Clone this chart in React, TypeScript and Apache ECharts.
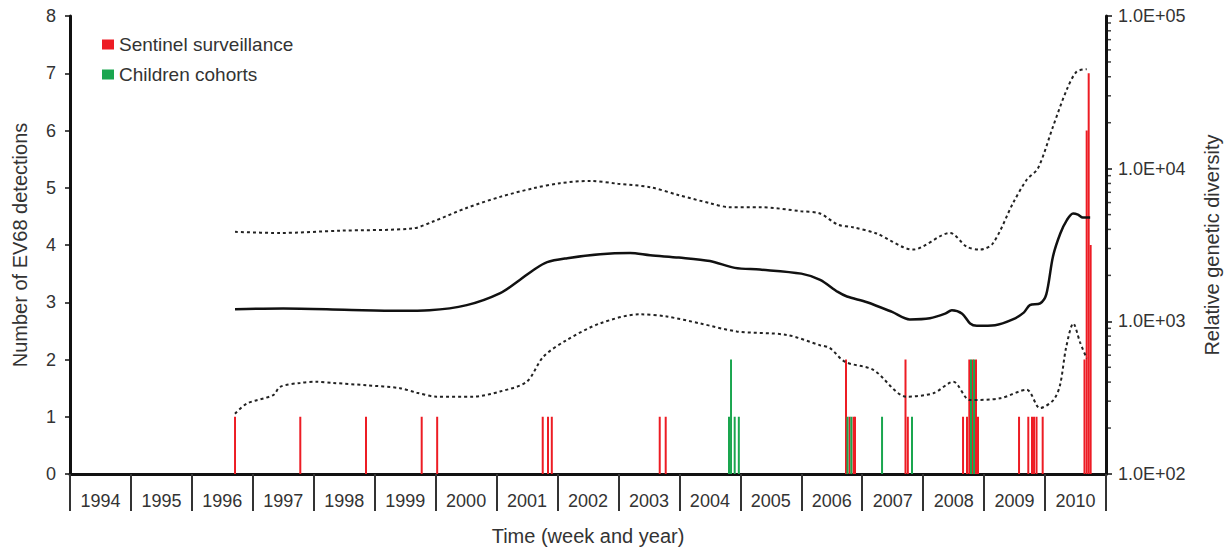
import React, { useEffect, useRef } from 'react';
import * as echarts from 'echarts';

const yearLabels = ['1994', '1995', '1996', '1997', '1998', '1999', '2000', '2001', '2002', '2003', '2004', '2005', '2006', '2007', '2008', '2009', '2010'];

// Sentinel surveillance detections (time in decimal years, count)
const redTime = [1996.708, 1997.779, 1998.857, 1999.771, 2000.025, 2001.757, 2001.844, 2001.906, 2003.677, 2003.775, 2006.734, 2006.791, 2006.857, 2006.881, 2007.710, 2007.748, 2008.654, 2008.719, 2008.757, 2008.813, 2008.867, 2008.900, 2009.573, 2009.725, 2009.786, 2009.819, 2009.860, 2009.961, 2010.647, 2010.683, 2010.716, 2010.748];
const redCount = [1, 1, 1, 1, 1, 1, 1, 1, 1, 1, 2, 1, 1, 1, 2, 1, 1, 1, 2, 2, 2, 1, 1, 1, 1, 1, 1, 1, 2, 6, 7, 4];

// Children cohorts detections
const greenTime = [2004.814, 2004.847, 2004.907, 2004.975, 2006.758, 2006.821, 2007.325, 2007.817, 2008.785, 2008.835];
const greenCount = [1, 2, 1, 1, 1, 1, 1, 1, 2, 2];

// Relative genetic diversity: median
const midTime = [1996.708, 1997.5, 1998.5, 1999.4, 1999.9, 2000.51, 2001.06, 2001.38, 2001.6, 2001.83, 2002.16, 2002.7, 2003.19, 2003.52, 2003.99, 2004.5, 2004.91, 2005.32, 2006.0, 2006.31, 2006.6, 2006.75, 2007.08, 2007.49, 2007.78, 2008.11, 2008.36, 2008.47, 2008.64, 2008.77, 2008.88, 2009.18, 2009.47, 2009.65, 2009.75, 2009.92, 2010.02, 2010.13, 2010.25, 2010.36, 2010.46, 2010.54, 2010.62, 2010.74];
const midValue = [1202, 1212, 1192, 1172, 1182, 1277, 1531, 1867, 2163, 2442, 2593, 2754, 2802, 2707, 2615, 2483, 2239, 2182, 2054, 1867, 1558, 1454, 1334, 1152, 1029, 1047, 1122, 1182, 1122, 969, 936, 944, 1029, 1141, 1277, 1311, 1500, 2661, 3758, 4624, 5085, 4998, 4786, 4786];

// Upper 95% HPD
const upperTime = [1996.708, 1997.446, 1998.431, 1999.628, 1999.957, 2000.515, 2001.056, 2001.598, 2002.041, 2002.533, 2002.992, 2003.517, 2003.993, 2004.502, 2004.83, 2005.323, 2005.995, 2006.307, 2006.6, 2006.849, 2007.238, 2007.833, 2008.44, 2008.714, 2008.933, 2009.146, 2009.474, 2009.699, 2009.884, 2010.131, 2010.355, 2010.519, 2010.683];
const upperValue = [3857, 3791, 3925, 4062, 4506, 5543, 6531, 7434, 8035, 8318, 7965, 7564, 6703, 5939, 5591, 5591, 5264, 5085, 4300, 4133, 3758, 2951, 3791, 3082, 2951, 3245, 5939, 8463, 10058, 18890, 32830, 43280, 44800];

// Lower 95% HPD
const lowerTime = [1996.708, 1996.9, 1997.336, 1997.446, 1997.774, 1998.048, 1998.316, 1998.869, 1999.415, 1999.689, 2000.017, 2000.618, 2001.056, 2001.494, 2001.767, 2002.151, 2002.697, 2003.353, 2003.792, 2004.338, 2004.94, 2005.76, 2006.307, 2006.471, 2006.717, 2007.182, 2007.73, 2008.166, 2008.494, 2008.769, 2009.261, 2009.699, 2009.917, 2010.136, 2010.245, 2010.344, 2010.464, 2010.574, 2010.683];
const lowerValue = [248, 289, 329, 372, 395, 402, 395, 381, 365, 341, 321, 321, 347, 402, 587, 754, 969, 1112, 1075, 969, 859, 815, 698, 668, 543, 481, 321, 338, 402, 305, 313, 356, 270, 305, 381, 668, 969, 729, 572];

// Minor tick positions of the logarithmic right axis
const logMinorTicks = [200, 300, 400, 500, 600, 700, 800, 900, 2000, 3000, 4000, 5000, 6000, 7000, 8000, 9000, 20000, 30000, 40000, 50000, 60000, 70000, 80000, 90000];

const FONT = 'Liberation Sans, Arial, Helvetica, sans-serif';
const TEXT = '#333333';
const RED = '#ed1c24';
const GREEN = '#1aa64f';

const zip = (a: number[], b: number[]) => a.map((v, i) => [v, b[i]]);

export default function App() {
  const ref = useRef<HTMLDivElement>(null);
  useEffect(() => {
    const chart = echarts.init(ref.current!, null, { renderer: 'svg' });
    const dashed = { type: [3, 3] as any, width: 2, color: '#222', cap: 'butt' as const };
    chart.setOption({
      animation: false,
      backgroundColor: '#ffffff',
      textStyle: { fontFamily: FONT },
      grid: { left: 70, right: 126, top: 16, bottom: 74, outerBoundsMode: 'none', containLabel: false },
      legend: {
        data: ['Sentinel surveillance', 'Children cohorts'],
        orient: 'vertical',
        left: 102,
        top: 35,
        padding: 0,
        itemWidth: 12,
        itemHeight: 10,
        itemGap: 11,
        icon: 'rect',
        selectedMode: false,
        textStyle: { fontSize: 19, color: TEXT, fontFamily: FONT },
      },
      xAxis: [
        { type: 'value', min: 1994, max: 2011, show: false },
        {
          type: 'category',
          data: yearLabels,
          boundaryGap: true,
          position: 'bottom',
          axisLine: { show: true, lineStyle: { color: '#111', width: 3 } },
          axisTick: { show: true, interval: 0, length: 37, lineStyle: { color: '#333', width: 2 } },
          axisLabel: { interval: 0, margin: 18, fontSize: 18, color: TEXT, fontFamily: FONT },
          splitLine: { show: false },
          name: 'Time (week and year)',
          nameLocation: 'middle',
          nameGap: 52,
          nameTextStyle: { fontSize: 20, color: TEXT, fontFamily: FONT },
        },
      ],
      yAxis: [
        {
          type: 'value',
          min: 0,
          max: 8,
          interval: 1,
          position: 'left',
          axisLine: { show: true, lineStyle: { color: '#111', width: 3 } },
          axisTick: { show: true, length: 5, lineStyle: { color: '#111', width: 1.5 } },
          axisLabel: { margin: 14, fontSize: 18, color: TEXT, fontFamily: FONT },
          splitLine: { show: false },
          name: 'Number of EV68 detections',
          nameLocation: 'middle',
          nameGap: 40,
          nameTextStyle: { fontSize: 20, color: TEXT, fontFamily: FONT },
        },
        {
          type: 'log',
          logBase: 10,
          min: 100,
          max: 100000,
          position: 'right',
          axisLine: { show: true, lineStyle: { color: '#111', width: 3 } },
          axisTick: { show: true, length: 6, lineStyle: { color: '#111', width: 1.5 } },
          axisLabel: {
            margin: 12,
            fontSize: 18,
            color: TEXT,
            fontFamily: FONT,
            formatter: (v: number) => '1.0E+' + String(Math.round(Math.log10(v))).padStart(2, '0'),
          },
          splitLine: { show: false },
          name: 'Relative genetic diversity',
          nameLocation: 'middle',
          nameGap: 96,
          nameTextStyle: { fontSize: 20, color: TEXT, fontFamily: FONT },
        },
      ],
      series: [
        {
          name: 'Sentinel surveillance',
          type: 'bar',
          xAxisIndex: 0,
          yAxisIndex: 0,
          barWidth: 2,
          barGap: '-100%',
          itemStyle: { color: RED },
          data: zip(redTime, redCount),
        },
        {
          name: 'Children cohorts',
          type: 'bar',
          xAxisIndex: 0,
          yAxisIndex: 0,
          barWidth: 2,
          barGap: '-100%',
          itemStyle: { color: GREEN },
          data: zip(greenTime, greenCount),
        },
        {
          name: 'Upper',
          type: 'line',
          xAxisIndex: 0,
          yAxisIndex: 1,
          showSymbol: false,
          smooth: 0.3,
          lineStyle: dashed,
          data: zip(upperTime, upperValue),
        },
        {
          name: 'Median',
          type: 'line',
          xAxisIndex: 0,
          yAxisIndex: 1,
          showSymbol: false,
          smooth: 0.3,
          lineStyle: { type: 'solid', width: 2.5, color: '#111' },
          data: zip(midTime, midValue),
        },
        {
          name: 'Lower',
          type: 'line',
          xAxisIndex: 0,
          yAxisIndex: 1,
          showSymbol: false,
          smooth: 0.3,
          lineStyle: dashed,
          data: zip(lowerTime, lowerValue),
        },
        {
          name: 'minorTicks',
          type: 'scatter',
          xAxisIndex: 0,
          yAxisIndex: 1,
          silent: true,
          clip: false,
          symbol: 'rect',
          symbolSize: [4, 1.5],
          symbolOffset: [3, 0],
          itemStyle: { color: '#111' },
          data: logMinorTicks.map((v) => [2011, v]),
        },
      ],
    });
    return () => chart.dispose();
  }, []);
  return (
    <div
      ref={ref}
      style={{ position: 'fixed', left: 0, top: 0, width: 1232, height: 548, background: '#fff' }}
    />
  );
}
